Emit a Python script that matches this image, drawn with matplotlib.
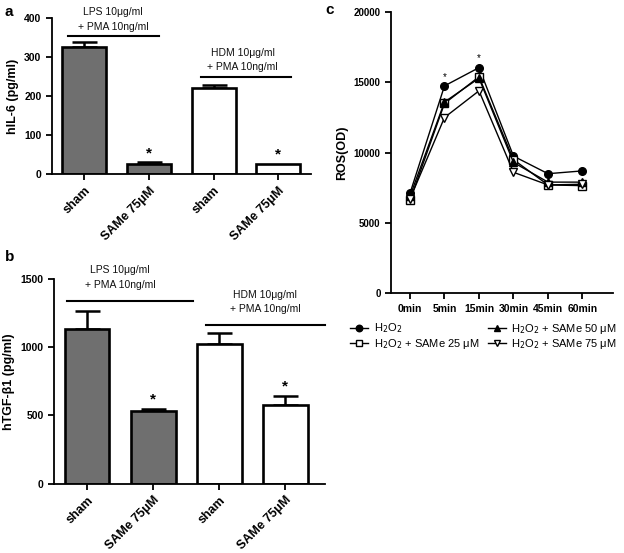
import matplotlib
matplotlib.use("Agg")
import matplotlib.pyplot as plt
import numpy as np

plt.rcParams['font.family'] = ['Arial', 'Liberation Sans', 'DejaVu Sans']

# Panel a
a_labels = ["sham", "SAMe 75μM", "sham", "SAMe 75μM"]
a_values = [325, 27, 220, 27]
a_errors = [13, 3, 8, 0]
a_colors = ["#6f6f6f", "#6f6f6f", "white", "white"]
a_sig = [False, True, False, True]

# Panel b
b_labels = ["sham", "SAMe 75μM", "sham", "SAMe 75μM"]
b_values = [1130, 535, 1020, 578]
b_errors = [135, 10, 80, 62]
b_sig = [False, True, False, True]

# Panel c
c_times = ["0min", "5min", "15min", "30min", "45min", "60min"]
c_h2o2 = [7100, 14750, 16050, 9750, 8500, 8700]
c_same25 = [6600, 13500, 15400, 9500, 7700, 7650]
c_same50 = [6900, 13600, 15300, 9300, 7900, 7900]
c_same75 = [6700, 12500, 14400, 8600, 7700, 7750]

fig = plt.figure(figsize=(6.24, 5.53), dpi=100)

def style_axes(ax, ysize=7.5):
    for s in ["top", "right"]:
        ax.spines[s].set_visible(False)
    for s in ["left", "bottom"]:
        ax.spines[s].set_linewidth(1.3)
    ax.tick_params(width=1.3, length=4)
    ax.tick_params(axis="y", labelsize=ysize)
    for t in ax.get_yticklabels():
        t.set_fontweight("bold")

def bar_panel(ax, labels, values, errors, sig, ylim, yticks, ylabel, xmax):
    x = np.arange(len(values))
    ax.bar(x, values, width=0.68, color=a_colors, edgecolor="black", linewidth=1.9, zorder=2)
    for xi, v, e in zip(x, values, errors):
        if e > 0:
            ax.errorbar(xi, v, yerr=[[0], [e]], color="black", capsize=9, capthick=1.8, elinewidth=1.8, zorder=1)
    ax.set_xlim(-0.5, xmax)
    ax.set_ylim(*ylim)
    ax.set_yticks(yticks)
    ax.set_xticks(x)
    ax.set_xticklabels(labels, rotation=45, ha="right", rotation_mode="anchor", fontweight="bold", fontsize=9)
    ax.set_ylabel(ylabel, fontweight="bold", fontsize=9)
    style_axes(ax)
    for xi, v, e, s in zip(x, values, errors, sig):
        if s:
            ax.text(xi, v + e + ylim[1] * 0.012, "*", ha="center", va="bottom", fontsize=11, fontweight="bold")

grp_kw = dict(ha="center", va="bottom", fontsize=7.5, linespacing=1.55, color="#111111")

# a
axa = fig.add_axes([0.083, 0.685, 0.415, 0.282])
bar_panel(axa, a_labels, a_values, a_errors, a_sig, (0, 400), [0, 100, 200, 300, 400], "hIL-6 (pg/ml)", 3.5)
axa.plot([-0.25, 1.15], [354, 354], color="black", lw=1.5, clip_on=False)
axa.text(0.45, 366, "LPS 10μg/ml\n+ PMA 10ng/ml", **grp_kw)
axa.plot([1.8, 3.2], [249, 249], color="black", lw=1.5, clip_on=False)
axa.text(2.45, 261, "HDM 10μg/ml\n+ PMA 10ng/ml", **grp_kw)
fig.text(0.008, 0.978, "a", fontsize=11, fontweight="bold", va="center")

# b
axb = fig.add_axes([0.0865, 0.125, 0.434, 0.371])
bar_panel(axb, b_labels, b_values, b_errors, b_sig, (0, 1500), [0, 500, 1000, 1500], "hTGF-β1 (pg/ml)", 3.6)
axb.plot([-0.3, 1.6], [1339, 1339], color="black", lw=1.5, clip_on=False)
axb.text(0.5, 1420, "LPS 10μg/ml\n+ PMA 10ng/ml", **grp_kw)
axb.plot([1.8, 3.6], [1163, 1163], color="black", lw=1.5, clip_on=False)
axb.text(2.7, 1240, "HDM 10μg/ml\n+ PMA 10ng/ml", **grp_kw)
fig.text(0.008, 0.535, "b", fontsize=11, fontweight="bold", va="center")

# c
axc = fig.add_axes([0.6266, 0.470, 0.355, 0.508])
xc = np.arange(len(c_times))
l1, = axc.plot(xc, c_h2o2, "-o", color="black", mfc="black", ms=5.5, lw=1, label="H$_2$O$_2$")
l2, = axc.plot(xc, c_same25, "-s", color="black", mfc="white", ms=5.5, lw=1, label="H$_2$O$_2$ + SAMe 25 μM")
l3, = axc.plot(xc, c_same50, "-^", color="black", mfc="black", ms=5.5, lw=1, label="H$_2$O$_2$ + SAMe 50 μM")
l4, = axc.plot(xc, c_same75, "-v", color="black", mfc="white", ms=5.5, lw=1, label="H$_2$O$_2$ + SAMe 75 μM")
axc.set_xlim(-0.55, 5.87)
axc.set_ylim(0, 20000)
axc.set_yticks([0, 5000, 10000, 15000, 20000])
axc.set_xticks(xc)
axc.set_xticklabels(c_times, fontsize=7.5, fontweight="bold")
axc.set_ylabel("ROS(OD)", fontweight="bold", fontsize=9)
style_axes(axc, ysize=7)
axc.text(1, 15050, "*", ha="center", va="bottom", fontsize=7)
axc.text(2, 16350, "*", ha="center", va="bottom", fontsize=7)
fig.text(0.522, 0.982, "c", fontsize=11, fontweight="bold", va="center")
fig.legend(handles=[l1, l2, l3, l4], loc="center", bbox_to_anchor=(0.775, 0.392), ncol=2,
           frameon=False, handlelength=1.6, columnspacing=0.8, handletextpad=0.5,
           labelspacing=0.1, markerscale=0.85, prop={"size": 8})

fig.savefig("out.png", dpi=100)
